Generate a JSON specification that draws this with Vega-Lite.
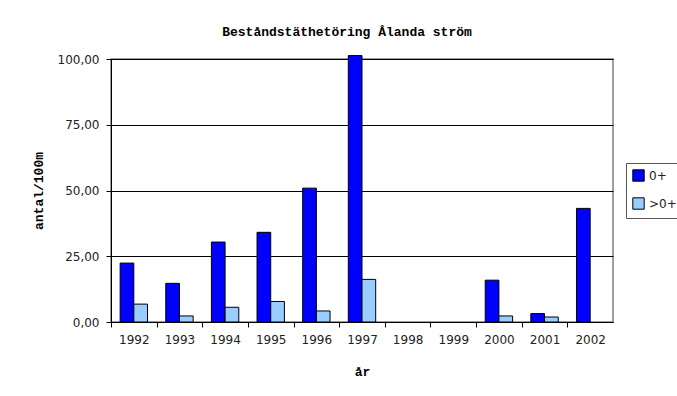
{
  "$schema": "https://vega.github.io/schema/vega-lite/v6.json",
  "autosize": "none",
  "width": 502,
  "height": 263,
  "padding": {"left": 111, "top": 59, "right": 64, "bottom": 74},
  "background": "white",
  "title": {
    "text": "Beståndstäthetöring Ålanda ström",
    "font": "Liberation Mono",
    "fontSize": 13,
    "fontWeight": "bold",
    "color": "black",
    "anchor": "middle",
    "dx": -15,
    "offset": 14
  },
  "data": {
    "values": [
      {"year": "1992", "series": "0+", "value": 22.4},
      {"year": "1992", "series": ">0+", "value": 6.8},
      {"year": "1993", "series": "0+", "value": 14.7},
      {"year": "1993", "series": ">0+", "value": 2.3},
      {"year": "1994", "series": "0+", "value": 30.4},
      {"year": "1994", "series": ">0+", "value": 5.6},
      {"year": "1995", "series": "0+", "value": 34.1},
      {"year": "1995", "series": ">0+", "value": 7.8},
      {"year": "1996", "series": "0+", "value": 50.9},
      {"year": "1996", "series": ">0+", "value": 4.2},
      {"year": "1997", "series": "0+", "value": 101.3},
      {"year": "1997", "series": ">0+", "value": 16.2},
      {"year": "2000", "series": "0+", "value": 15.9},
      {"year": "2000", "series": ">0+", "value": 2.3},
      {"year": "2001", "series": "0+", "value": 3.2},
      {"year": "2001", "series": ">0+", "value": 1.9},
      {"year": "2002", "series": "0+", "value": 43.2}
    ]
  },
  "mark": {"type": "bar", "stroke": "black", "strokeWidth": 1},
  "encoding": {
    "x": {
      "field": "year",
      "type": "nominal",
      "scale": {
        "domain": ["1992", "1993", "1994", "1995", "1996", "1997", "1998", "1999", "2000", "2001", "2002"],
        "paddingInner": 0.4,
        "paddingOuter": 0.2
      },
      "axis": {
        "title": "år",
        "titleFont": "Liberation Mono",
        "titleFontSize": 13,
        "titleFontWeight": "bold",
        "titleColor": "black",
        "titlePadding": 20,
        "labelAngle": 0,
        "labelFont": "DejaVu Sans",
        "labelFontSize": 12,
        "labelColor": "#222",
        "labelPadding": 7,
        "tickOffset": -22.8,
        "labelOffset": 22.8,
        "tickSize": 5,
        "tickColor": "black",
        "domainColor": "black",
        "grid": false
      }
    },
    "xOffset": {"field": "series", "type": "nominal", "sort": ["0+", ">0+"]},
    "y": {
      "field": "value",
      "type": "quantitative",
      "scale": {"domain": [0, 100], "nice": false},
      "axis": {
        "title": "antal/100m",
        "titleFont": "Liberation Mono",
        "titleFontSize": 13,
        "titleFontWeight": "bold",
        "titleColor": "black",
        "titlePadding": 12,
        "values": [0, 25, 50, 75, 100],
        "labelExpr": "replace(format(datum.value, '.2f'), '.', ',')",
        "labelFont": "DejaVu Sans",
        "labelFontSize": 12,
        "labelColor": "#222",
        "labelPadding": 7,
        "tickSize": 5,
        "tickColor": "black",
        "domainColor": "black",
        "grid": true,
        "gridColor": "black",
        "gridOpacity": 1
      }
    },
    "color": {
      "field": "series",
      "type": "nominal",
      "sort": ["0+", ">0+"],
      "scale": {"domain": ["0+", ">0+"], "range": ["#0000FF", "#99CCFF"]},
      "legend": {
        "title": null,
        "orient": "none",
        "legendX": 515,
        "legendY": 104,
        "strokeColor": "#555",
        "fillColor": "white",
        "padding": 6,
        "rowPadding": 11,
        "symbolType": "square",
        "symbolSize": 130,
        "symbolStrokeColor": "black",
        "symbolStrokeWidth": 1,
        "symbolOpacity": 1,
        "labelFont": "DejaVu Sans",
        "labelFontSize": 12,
        "labelColor": "#222"
      }
    }
  },
  "config": {
    "view": {"stroke": "#808080", "strokeWidth": 1.5}
  }
}
